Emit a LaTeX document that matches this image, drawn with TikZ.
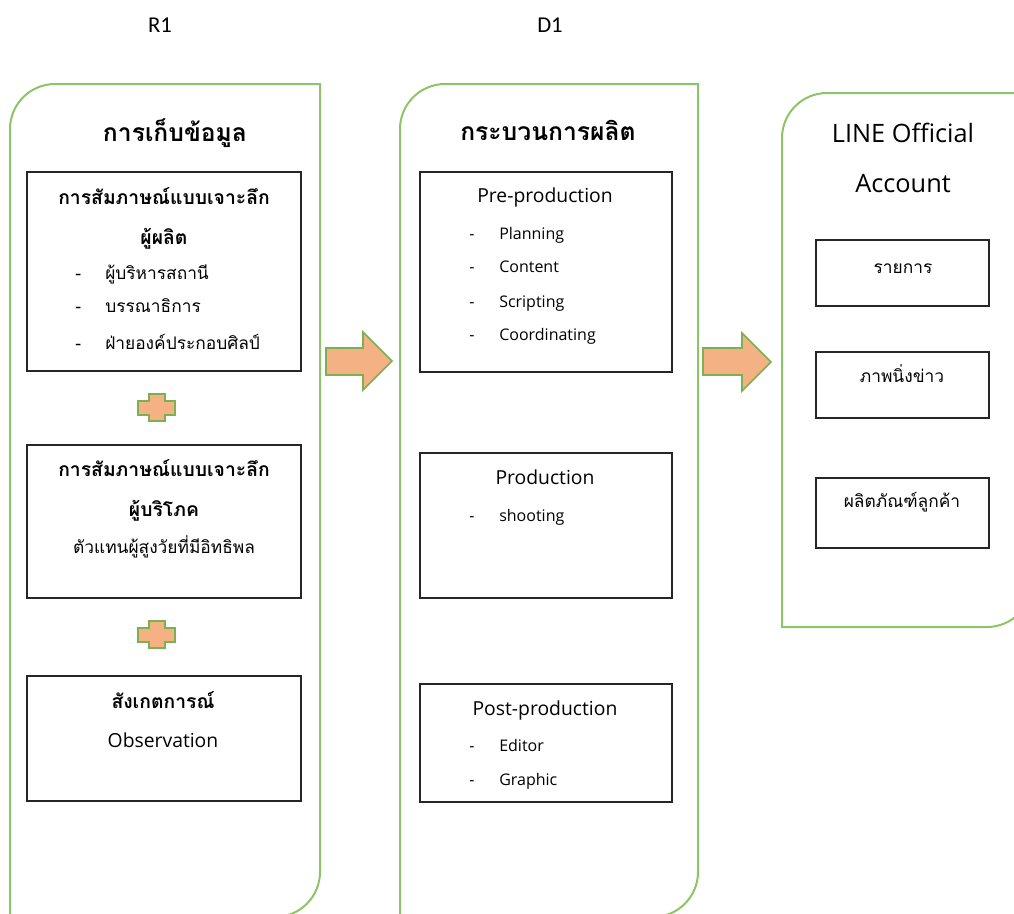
\documentclass[tikz,border=0pt]{standalone}
\usepackage{fontspec}
\usepackage{tikz}
\usetikzlibrary{fit}
\setmainfont{Open Sans}
\newfontfamily\thaifont[Script=Thai]{Loma}
\newfontfamily\labelfont{Carlito}
\definecolor{panelgreen}{RGB}{141,196,103}
\definecolor{edgegreen}{RGB}{122,178,82}
\definecolor{blockorange}{RGB}{244,177,131}
\newcommand\dashitem{\makebox[22.5pt][l]{-}}

\begin{document}
\begin{tikzpicture}[x=0.75pt, y=-0.75pt,
  panel/.style={draw=panelgreen, line width=1.5pt},
  databox/.style={draw=black!85, line width=0.9pt, inner sep=0pt},
  blockarrow/.style={fill=blockorange, draw=edgegreen, line width=1.2pt, line join=miter},
  thtitle/.style={anchor=base, inner sep=0pt, font=\thaifont\bfseries\fontsize{18.5}{22}\selectfont},
  thhead/.style={anchor=base, inner sep=0pt, font=\thaifont\bfseries\fontsize{14.5}{17}\selectfont},
  thtext/.style={anchor=base, inner sep=0pt, font=\thaifont\fontsize{13}{15}\selectfont},
  thitem/.style={thtext, anchor=base west},
  entitle/.style={anchor=base, inner sep=0pt, font=\fontsize{19}{22}\selectfont},
  enhead/.style={anchor=base, inner sep=0pt, font=\fontsize{14.5}{17}\selectfont},
  enitem/.style={anchor=base west, inner sep=0pt, font=\fontsize{12}{14}\selectfont}]

  \useasboundingbox (0,0) rectangle (1014,914);
  \clip (0,0) rectangle (1014,914);

  % column labels
  \node[anchor=base, inner sep=0pt, font=\labelfont\fontsize{17}{19}\selectfont] (r1) at (160,32) {R1};
  \node[anchor=base, inner sep=0pt, font=\labelfont\fontsize{17}{19}\selectfont] (d1) at (550,32) {D1};

  % panels
  \draw[panel] (10,930) -- (10,129) .. controls (10,104.2) and (30.2,84) .. (55,84)
    -- (320,84) -- (320,872) .. controls (320,896.8) and (299.8,917) .. (275,917) -- (10,917);
  \draw[panel] (400,930) -- (400,129) .. controls (400,104.2) and (420.2,84) .. (445,84)
    -- (698,84) -- (698,872) .. controls (698,896.8) and (677.8,917) .. (653,917) -- (400,917);
  \draw[panel] (782,627) -- (782,138) .. controls (782,113.2) and (802.2,93) .. (827,93)
    -- (1032,93) -- (1032,582) .. controls (1032,606.8) and (1011.8,627) .. (987,627) -- cycle;

  % R1
  \node[thtitle] (collect) at (175,141) {การเก็บข้อมูล};

  \node[databox, fit={(27,172) (301,371)}] (prodint) {};
  \node[thhead] (prodint1) at (164,204) {การสัมภาษณ์แบบเจาะลึก};
  \node[thhead] (prodint2) at (164,244) {ผู้ผลิต};
  \node[thitem] (prodint3) at (75,279) {\dashitem ผู้บริหารสถานี};
  \node[thitem] (prodint4) at (75,312) {\dashitem บรรณาธิการ};
  \node[thitem] (prodint5) at (75,349) {\dashitem ฝ่ายองค์ประกอบศิลป์};

  \node[databox, fit={(27,445) (301,598)}] (consint) {};
  \node[thhead] (consint1) at (164,476) {การสัมภาษณ์แบบเจาะลึก};
  \node[thhead] (consint2) at (164,516) {ผู้บริโภค};
  \node[thtext] (consint3) at (164,553) {ตัวแทนผู้สูงวัยที่มีอิทธิพล};

  \node[databox, fit={(27,676) (301,801)}] (observe) {};
  \node[thhead] (observe1) at (163,708) {สังเกตการณ์};
  \node[enhead] (observe2) at (163,747) {Observation};

  \foreach \py in {0,227}
    \draw[blockarrow, shift={(0,\py)}] (149,394) -- (165,394) -- (165,401) -- (175,401)
      -- (175,415) -- (165,415) -- (165,421) -- (149,421) -- (149,415) -- (138,415)
      -- (138,401) -- (149,401) -- cycle;

  % D1
  \node[thtitle] (process) at (548,140) {กระบวนการผลิต};

  \node[databox, fit={(420,172) (672,372)}] (pre) {};
  \node[enhead] (pre1) at (545,202) {Pre-production};
  \node[enitem] (pre2) at (469,239) {\dashitem Planning};
  \node[enitem] (pre3) at (469,272) {\dashitem Content};
  \node[enitem] (pre4) at (469,307) {\dashitem Scripting};
  \node[enitem] (pre5) at (469,340) {\dashitem Coordinating};

  \node[databox, fit={(420,453) (672,598)}] (prod) {};
  \node[enhead] (prod1) at (545,484) {Production};
  \node[enitem] (prod2) at (469,521) {\dashitem shooting};

  \node[databox, fit={(420,684) (672,802)}] (post) {};
  \node[enhead] (post1) at (545,715) {Post-production};
  \node[enitem] (post2) at (469,751) {\dashitem Editor};
  \node[enitem] (post3) at (469,785) {\dashitem Graphic};

  % LINE OA
  \node[entitle] (oa1) at (903,142) {LINE Official};
  \node[entitle] (oa2) at (903,192) {Account};

  \node[databox, fit={(816,240) (989,306)}] (show) {};
  \node[thtext] (show1) at (903,273) {รายการ};
  \node[databox, fit={(816,352) (989,418)}] (news) {};
  \node[thtext] (news1) at (902,382) {ภาพนิ่งข่าว};
  \node[databox, fit={(816,478) (989,548)}] (client) {};
  \node[thtext] (client1) at (902,507) {ผลิตภัณฑ์ลูกค้า};

  % block arrows
  \draw[blockarrow] (326,348) -- (363,348) -- (363,332) -- (392,361) -- (363,390)
    -- (363,375) -- (326,375) -- cycle;
  \draw[blockarrow] (703,348) -- (742,348) -- (742,333) -- (771,362) -- (742,391)
    -- (742,375) -- (703,375) -- cycle;

\end{tikzpicture}
\end{document}
